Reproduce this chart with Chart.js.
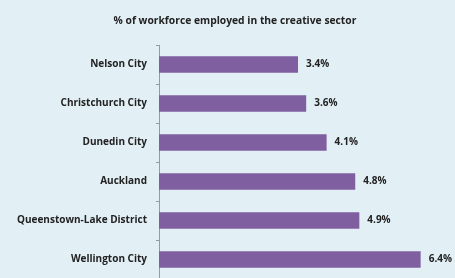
<!DOCTYPE html>
<html>
<head>
<meta charset="utf-8">
<script src="https://cdn.jsdelivr.net/npm/chart.js@4.4.0/dist/chart.umd.min.js"></script>
<style>
  html, body { margin: 0; padding: 0; background: #e2eff5; overflow: hidden; }
  #wrap { position: relative; width: 455px; height: 294px; }
</style>
</head>
<body>
<div id="wrap"><canvas id="chart"></canvas></div>
<script>
const regions = ["Nelson City", "Christchurch City", "Dunedin City", "Auckland", "Queenstown-Lake District", "Wellington City"];
const shares = [3.4, 3.6, 4.1, 4.8, 4.9, 6.4];
const chartTitle = "% of workforce employed in the creative sector";

// title + value labels at bar ends
const barLabels = {
  id: "barLabels",
  afterDatasetsDraw(chart) {
    const ctx = chart.ctx;
    const meta = chart.getDatasetMeta(0);
    ctx.save();
    ctx.fillStyle = "#222";
    ctx.textBaseline = "middle";
    ctx.font = "bold 10.3px 'Open Sans', sans-serif";
    ctx.textAlign = "center";
    ctx.fillText(chartTitle, 235, 21);
    ctx.font = "bold 10px 'Open Sans', sans-serif";
    ctx.textAlign = "left";
    meta.data.forEach((bar, i) => {
      ctx.fillText(shares[i].toFixed(1) + "%", bar.x + 8, bar.y);
    });
    ctx.restore();
  }
};

new Chart(document.getElementById("chart"), {
  type: "bar",
  data: {
    labels: regions,
    datasets: [{
      data: shares,
      backgroundColor: "#7f5fa0",
      borderWidth: 0,
      categoryPercentage: 1,
      barPercentage: 0.42,
    }],
  },
  options: {
    indexAxis: "y",
    responsive: true, maintainAspectRatio: false,
    animation: false,
    layout: { padding: { top: 45, right: 0, bottom: 0, left: 0 } },
    plugins: {
      legend: { display: false },
      tooltip: { enabled: false },
      title: { display: false },
    },
    scales: {
      x: { display: false, min: 0, max: 7.24 },
      y: {
        afterFit: s => { s.width = 159; },
        border: { display: true, color: "#9a9a9a", width: 1 },
        grid: { display: true, drawOnChartArea: false, tickLength: 3, color: "#9a9a9a" },
        ticks: { color: "#222", padding: 9, font: { family: "'Open Sans', sans-serif", size: 10, weight: "bold" } },
      },
    },
  },
  plugins: [barLabels],
});
</script>
</body>
</html>
